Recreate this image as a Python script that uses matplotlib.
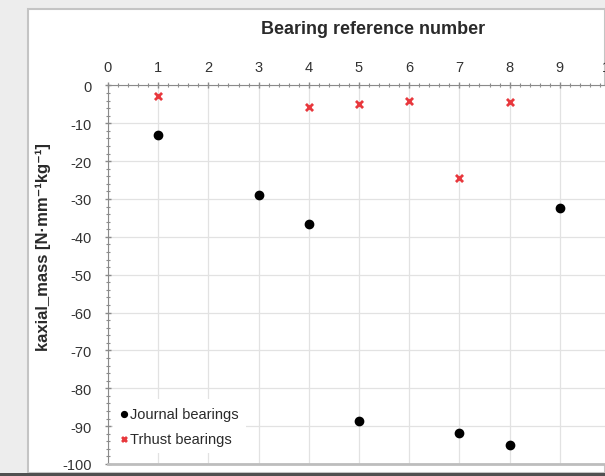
import matplotlib
matplotlib.use('Agg')
import matplotlib.pyplot as plt
from matplotlib.patches import Rectangle
from matplotlib.ticker import MultipleLocator

plt.rcParams['font.family'] = ['Liberation Sans', 'DejaVu Sans']
plt.rcParams['axes.unicode_minus'] = False

# bearing reference numbers and kaxial_mass values
journal_ref = [1, 3, 4, 5, 7, 8, 9]
journal_val = [-13.2, -28.9, -36.5, -88.6, -91.9, -95.0, -32.3]
thrust_ref = [1, 4, 5, 6, 7, 8]
thrust_val = [-2.7, -5.7, -5.0, -4.0, -24.5, -4.5]

W, H = 605, 477
fig = plt.figure(figsize=(W / 100, H / 100), dpi=100)
fig.patch.set_facecolor('#ededed')

# white chart panel with a thin border, dark strip at the very bottom
fig.patches.append(Rectangle((28 / W, 3 / H), 1 - 28 / W, (474 - 10) / H, transform=fig.transFigure,
                             facecolor='white', edgecolor='#c4c4c4', linewidth=1.5, zorder=-10))
fig.patches.append(Rectangle((0, 0), 1, 3 / H, transform=fig.transFigure,
                             facecolor='#505050', edgecolor='none', zorder=-10))

ax = fig.add_axes([108 / W, 12 / H, (610 - 108) / W, (465 - 86.4) / H])
ax.set_facecolor('white')

ax.scatter(journal_ref, journal_val, s=36, color='black', label='Journal bearings', zorder=3)
ax.scatter(thrust_ref, thrust_val, s=26, color='#e8383d', marker='x', linewidths=2,
           label='Trhust bearings', zorder=3)

ax.set_xlim(0, 10)
ax.set_ylim(-100, 0)
ax.xaxis.set_major_locator(MultipleLocator(1))
ax.xaxis.set_minor_locator(MultipleLocator(0.2))
ax.yaxis.set_major_locator(MultipleLocator(10))
ax.yaxis.set_minor_locator(MultipleLocator(2))
ax.xaxis.tick_top()
ax.grid(True, which='major', color='#e2e2e2', linewidth=0.9)
ax.set_axisbelow(True)

ax.tick_params(axis='both', which='major', direction='inout', length=5, width=1,
               color='#8a8a8a', labelsize=10.5, labelcolor='#333333')
ax.tick_params(axis='both', which='minor', direction='inout', length=3, width=0.8, color='#8a8a8a')
ax.tick_params(axis='x', which='both', top=True, bottom=False, pad=6)
ax.tick_params(axis='y', which='both', pad=9)
for side in ['top', 'left']:
    ax.spines[side].set_color('#8a8a8a')
ax.spines['bottom'].set_color('#bdbdbd')
ax.spines['bottom'].set_linewidth(2)
ax.spines['right'].set_visible(False)

# axis titles
fig.text(373 / W, 1 - 30 / H, 'Bearing reference number', ha='center', va='center',
         fontsize=13, fontweight='bold', color='#2a2a2a')
fig.text(43 / W, 1 - 247 / H, 'kaxial_mass [N·mm⁻¹kg⁻¹]',
         rotation=90, ha='center', va='center', fontsize=12, fontweight='bold', color='#2a2a2a')

leg = ax.legend(loc='lower left', bbox_to_anchor=(113 / W, (477 - 454) / H), bbox_transform=fig.transFigure,
                frameon=True, fancybox=False, framealpha=1, edgecolor='none', facecolor='white',
                fontsize=10.5, handlelength=0.5, handletextpad=0.15, labelspacing=0.75,
                borderpad=0.5, borderaxespad=0, markerscale=0.7)
for t in leg.get_texts():
    t.set_color('#2a2a2a')

fig.savefig('out.png', dpi=100, facecolor=fig.get_facecolor())
